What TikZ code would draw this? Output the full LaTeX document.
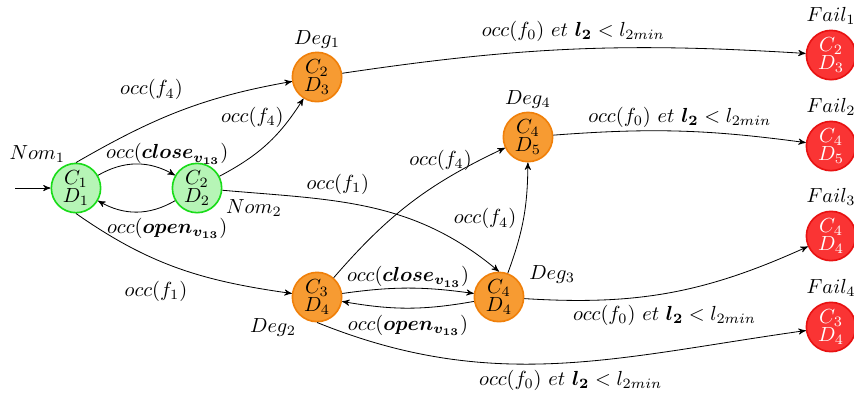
\documentclass[tikz,border=0pt]{standalone}
\usepackage{amsmath,bm}
\usetikzlibrary{arrows}
\definecolor{nomfill}{RGB}{182,245,182}
\definecolor{nomline}{RGB}{25,220,25}
\definecolor{degfill}{RGB}{247,155,50}
\definecolor{degline}{RGB}{240,128,10}
\definecolor{failfill}{RGB}{250,52,52}
\definecolor{failline}{RGB}{232,18,18}
\newcommand{\cd}[2]{$C_{#1}$\\[-3pt]$D_{#2}$}
\newcommand{\lmin}{$occ(f_0)\ et\ \bm{l_2} < l_{2min}$}

\begin{document}
\begin{tikzpicture}[>=stealth',
  etat/.style={circle, thick, minimum size=0.85cm, inner sep=0pt, align=center},
  nom/.style={etat, draw=nomline, fill=nomfill},
  deg/.style={etat, draw=degline, fill=degfill},
  fail/.style={etat, draw=failline, fill=failfill, text=white}]
  \useasboundingbox (0,0) rectangle (14.724,6.966);
  \node[nom, label={[xshift=7pt]above left:$Nom_1$}] (nom1) at (1.310,3.724) {\cd{1}{1}};
  \node[nom, label={[xshift=-1pt,yshift=2pt]-20:$Nom_2$}] (nom2) at (3.397,3.724) {\cd{2}{2}};
  \node[deg, label={[yshift=-2pt]above:$Deg_1$}] (deg1) at (5.466,5.638) {\cd{2}{3}};
  \node[deg, label={[xshift=2pt,yshift=2pt]below left:$Deg_2$}] (deg2) at (5.466,1.845) {\cd{3}{4}};
  \node[deg, label={[yshift=-2pt]25:$Deg_3$}] (deg3) at (8.603,1.845) {\cd{4}{4}};
  \node[deg, label={[yshift=-2pt]above:$Deg_4$}] (deg4) at (9.103,4.603) {\cd{4}{5}};
  \foreach \i/\c/\d/\y in {1/2/3/6.017, 2/4/5/4.448, 3/4/4/2.897, 4/3/4/1.328}
    \node[fail, label={[text=black,yshift=-1pt]above:$Fail_{\i}$}] (fail\i) at (14.328,\y) {\cd{\c}{\d}};
  \coordinate (init) at (0.259,3.724);
  \draw[->] (init) -- (nom1);
  \draw[->] (nom1) to[bend left=30] node[pos=0.9,above] {$occ(\bm{close_{v_{13}}})$} (nom2);
  \draw[->] (nom2) to[bend left=30] node[pos=0.1,below,yshift=-3pt] {$occ(\bm{open_{v_{13}}})$} (nom1);
  \draw[->] (nom1.north) to[out=30,in=190] node[pos=0.55,above left] {$occ(f_4)$} (deg1);
  \draw[->] (nom2) to[bend right=15] node[pos=0.82,left] {$occ(f_4)$} (deg1);
  \draw[->] (nom2) to[out=-5,in=140] node[pos=0.38,above] {$occ(f_1)$} (deg3.north);
  \draw[->] (nom1.south) to[out=-35,in=172] node[pos=0.58,below left] {$occ(f_1)$} (deg2);
  \draw[->] (deg2) to[bend left=12] node[pos=0.88,left] {$occ(f_4)$} (deg4);
  \draw[->] (deg3) to[bend right=10] node[left] {$occ(f_4)$} (deg4);
  \draw[->] (deg2) to[bend left=8] node[above,yshift=-3pt] {$occ(\bm{close_{v_{13}}})$} (deg3);
  \draw[->] (deg3) to[bend left=10] node[below] {$occ(\bm{open_{v_{13}}})$} (deg2);
  \draw[->] (deg1) to[bend left=6] node[above] {\lmin} (fail1);
  \draw[->] (deg4) to[bend left=6] node[above,yshift=-2pt] {\lmin} (fail2);
  \draw[->] (deg3) to[bend right=14] node[pos=0.48,below,yshift=-2pt] {\lmin} (fail3);
  \draw[->] (deg2.south) to[out=-22,in=188] node[pos=0.53,below] {\lmin} (fail4);
\end{tikzpicture}
\end{document}
